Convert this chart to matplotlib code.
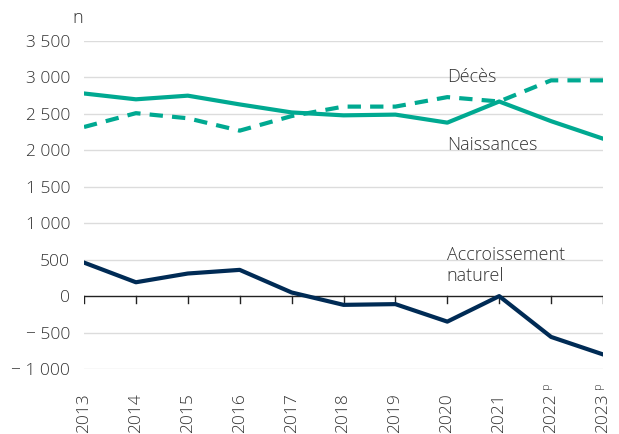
import matplotlib
matplotlib.use("Agg")
import matplotlib.pyplot as plt

plt.rcParams['font.family'] = ['Open Sans', 'DejaVu Sans']
plt.rcParams['font.weight'] = 'light'

years = ["2013", "2014", "2015", "2016", "2017", "2018", "2019", "2020", "2021", "2022", "2023"]
provisional = [False] * 9 + [True, True]
naissances = [2780, 2700, 2750, 2630, 2520, 2480, 2490, 2380, 2670, 2400, 2160]
deces = [2320, 2510, 2440, 2270, 2470, 2600, 2600, 2730, 2670, 2960, 2960]
accroissement = [460, 190, 310, 360, 50, -120, -110, -350, 0, -560, -800]
yticks = [-1000, -500, 0, 500, 1000, 1500, 2000, 2500, 3000, 3500]
ytick_labels = ["\u2212 1 000", "\u2212 500", "0", "500", "1 000", "1 500", "2 000", "2 500", "3 000", "3 500"]

teal = "#00A991"
navy = "#002B55"
txt = "#333333"

fig = plt.figure(figsize=(6.19, 4.34), dpi=100)
ax = fig.add_axes([84 / 619, 1 - 369 / 434, (603 - 84) / 619, (369 - 41) / 434])

x = list(range(len(years)))
for yv in yticks:
    if yv != 0:
        ax.axhline(yv, color="#dcdcdc", lw=1.0, zorder=0)
ax.axhline(0, color="#222222", lw=1.0, zorder=1)
for xi in x:
    ax.plot([xi, xi], [0, -100], color="#222222", lw=1.0, zorder=1)

ax.plot(x, naissances, color=teal, lw=3, zorder=3)
ax.plot(x, deces, color=teal, lw=3, dashes=(3.2, 2.2), zorder=3)
ax.plot(x, accroissement, color=navy, lw=3, zorder=3)

ax.set_xlim(0, len(years) - 1)
ax.set_ylim(-1000, 3500)
ax.set_yticks(yticks)
ax.set_yticklabels(ytick_labels)
ax.set_xticks(x)
ax.set_xticklabels(years, rotation=90)
ax.tick_params(axis="both", length=0, labelsize=12.5, labelcolor=txt)
ax.tick_params(axis="y", pad=10)
ax.tick_params(axis="x", pad=17.5)
for s in ax.spines.values():
    s.set_visible(False)

for xi, p in zip(x, provisional):
    if p:
        ax.annotate("p", xy=(xi, 0), xycoords=("data", "axes fraction"),
                    xytext=(-3.3, -9.8), textcoords="offset points", rotation=90,
                    ha="center", va="top", fontsize=8, color=txt)

fs = 13
ax.text(6.99, 3000, "Décès", ha="left", va="center", fontsize=fs, color=txt)
ax.text(6.99, 2070, "Naissances", ha="left", va="center", fontsize=fs, color=txt)
ax.text(6.99, 420, "Accroissement\nnaturel", ha="left", va="center", fontsize=fs, color=txt,
        linespacing=1.25)
fig.text(78 / 619, 1 - 18 / 434, "n", ha="center", va="center", fontsize=fs, color=txt)

fig.savefig("out.png", dpi=100)
